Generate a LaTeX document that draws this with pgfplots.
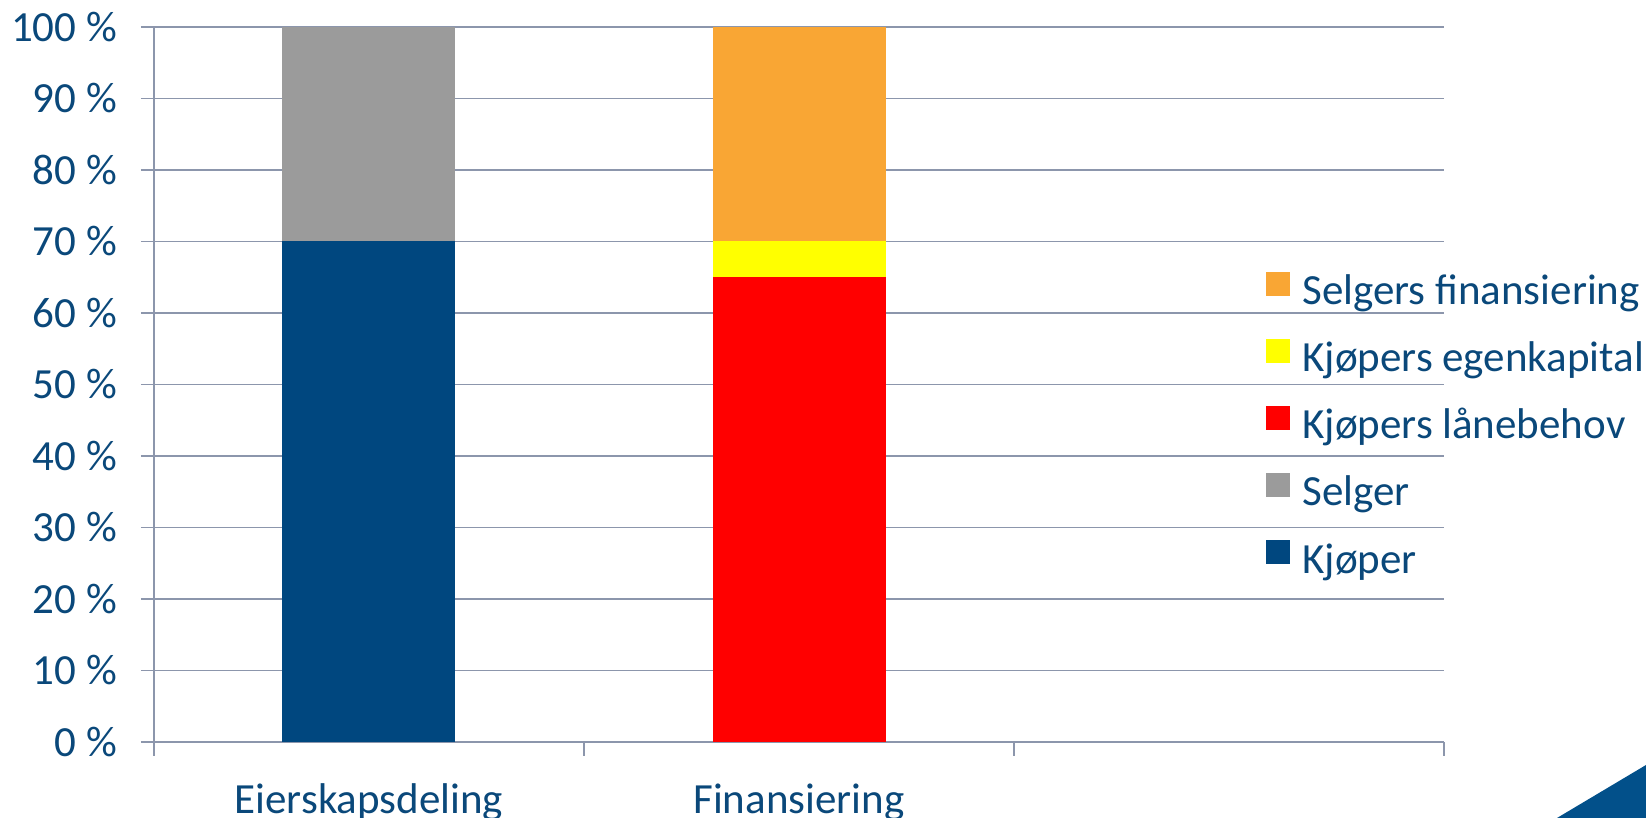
\documentclass[border=0pt]{standalone}
\usepackage{pgfplots}
\pgfplotsset{compat=1.18}
\usepackage{fontspec}
\setmainfont{Carlito}
\definecolor{txtblue}{RGB}{10,72,122}
\definecolor{kjoper}{RGB}{0,71,127}
\definecolor{selger}{RGB}{155,155,155}
\definecolor{laan}{RGB}{255,0,0}
\definecolor{egen}{RGB}{255,255,0}
\definecolor{selgfin}{RGB}{249,166,52}
\definecolor{gridc}{RGB}{140,150,172}
\definecolor{deco}{RGB}{2,80,138}
\begin{document}
\begin{tikzpicture}
\useasboundingbox (-77pt,-38pt) rectangle (746pt,371pt);
\begin{axis}[
  at={(0,0)}, anchor=south west,
  scale only axis, width=645pt, height=357.5pt,
  ybar stacked, bar width=86.5pt,
  xmin=-0.5, xmax=2.5, ymin=0, ymax=100, enlargelimits=false,
  axis lines*=left,
  axis line style={gridc, line width=1pt},
  xtick={0,1}, xticklabels={Eierskapsdeling,Finansiering},
  every major x tick/.append style={draw=none},
  minor xtick={-0.5,0.5,1.5,2.5},
  minor tick length=7pt,
  major tick length=6.5pt,
  tick align=outside,
  ytick={0,10,...,100},
  yticklabels={0 \%,10 \%,20 \%,30 \%,40 \%,50 \%,60 \%,70 \%,80 \%,90 \%,100 \%},
  ymajorgrids, grid style={gridc, line width=0.75pt},
  tick style={gridc, line width=0.75pt},
  ticklabel style={font=\fontsize{21.5}{25}\selectfont, text=txtblue},
  yticklabel style={xshift=-8.5pt},
  xticklabel style={yshift=-11pt},
  legend style={at={(0.862,0.4401)}, anchor=west, draw=none, fill=none, inner sep=0pt,
    font=\fontsize{21.5}{25}\selectfont, text=txtblue, row sep=12.05pt,
    nodes={inner sep=0pt, text height=15pt, text depth=5pt},
    /tikz/every odd column/.append style={column sep=6pt}},
  legend cell align=left, reverse legend,
  legend image code/.code={\fill[#1] (0pt,-0.5pt) rectangle (12pt,11.5pt);},
]
\addplot[fill=kjoper, draw=none] coordinates {(0,70) (1,0)};
\addlegendentry{Kjøper}
\addplot[fill=selger, draw=none] coordinates {(0,30) (1,0)};
\addlegendentry{Selger}
\addplot[fill=laan, draw=none] coordinates {(0,0) (1,65)};
\addlegendentry{Kjøpers lånebehov}
\addplot[fill=egen, draw=none] coordinates {(0,0) (1,5)};
\addlegendentry{Kjøpers egenkapital}
\addplot[fill=selgfin, draw=none] coordinates {(0,0) (1,30)};
\addlegendentry{Selgers finansiering}
\end{axis}
\fill[deco] (701.5pt,-38pt) -- (746pt,-11.5pt) -- (746pt,-38pt) -- cycle;
\end{tikzpicture}
\end{document}
